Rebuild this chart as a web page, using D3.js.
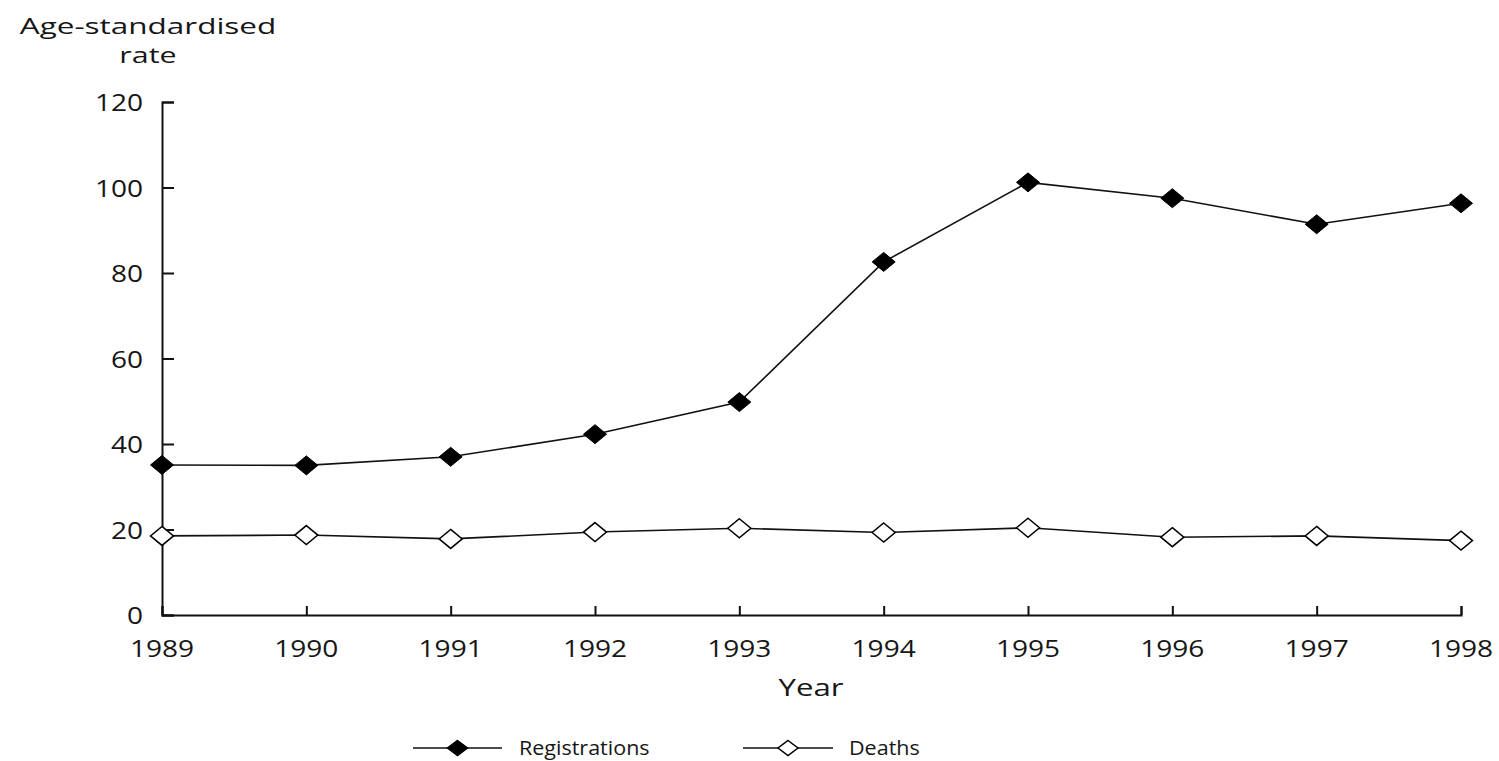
<!DOCTYPE html>
<html><head><meta charset="utf-8">
<script src="https://cdn.jsdelivr.net/npm/d3@7"></script>
<style>html,body{margin:0;padding:0;background:#fff;} text{font-family:"Open Sans","Noto Sans",sans-serif;fill:#161616;}</style>
</head><body>
<svg id="c" width="1499" height="761"></svg>
<script>
const years = [1989,1990,1991,1992,1993,1994,1995,1996,1997,1998];
const registrations = [35.1,35.0,37.0,42.3,49.8,82.6,101.2,97.5,91.4,96.3];
const deaths = [18.5,18.7,17.8,19.4,20.3,19.3,20.4,18.2,18.5,17.4];
const yTicks = [0,20,40,60,80,100,120];
const seriesNames = ["Registrations","Deaths"];

const svg = d3.select("#c");
const x = d3.scaleLinear().domain([1989,1998]).range([162,1461]);
const y = d3.scaleLinear().domain([0,120]).range([615,102]);

function label(g, tx, ty, str, anchor, fs, sx){
  return g.append("text").attr("transform",`translate(${tx},${ty}) scale(${sx},1)`)
    .attr("text-anchor",anchor||"middle").attr("font-size",fs).text(str);
}

// axes
const yAxis = svg.append("g").attr("transform","translate(162,0)")
  .call(d3.axisRight(y).tickValues(yTicks).tickSize(12).tickFormat(""));
const xAxis = svg.append("g").attr("transform","translate(0,615)")
  .call(d3.axisTop(x).tickValues(years).tickSize(9).tickFormat(""));
[yAxis,xAxis].forEach(a=>{a.selectAll("path,line").attr("stroke","#111").attr("stroke-width",2);});

yTicks.forEach(v=>label(svg,143,y(v)+9,v,"end",23,1.22));
years.forEach(v=>label(svg,x(v),657,v,"middle",23,1.22));
label(svg,811,696,"Year","middle",24,1.3);
label(svg,148,34,"Age-standardised","middle",21,1.5);
label(svg,148,63,"rate","middle",21,1.45);

const line = d3.line().x((d,i)=>x(years[i])).y(d=>y(d));
const diamond = "M0,-9.5L11.5,0L0,9.5L-11.5,0Z";

function drawSeries(vals, filled){
  svg.append("path").datum(vals).attr("d",line).attr("fill","none").attr("stroke","#111").attr("stroke-width",1.6);
  svg.selectAll(null).data(vals).enter().append("path")
    .attr("d",diamond).attr("transform",(d,i)=>`translate(${x(years[i])},${y(d)})`)
    .attr("fill",filled?"#000":"#fff").attr("stroke","#000").attr("stroke-width",filled?1:1.5);
}
drawSeries(deaths,false);
drawSeries(registrations,true);

// legend
const leg = [{name:seriesNames[0],x0:413,x1:502,filled:true,tx:519},{name:seriesNames[1],x0:743,x1:833,filled:false,tx:849}];
leg.forEach(l=>{
  svg.append("line").attr("x1",l.x0).attr("x2",l.x1).attr("y1",748).attr("y2",748).attr("stroke","#111").attr("stroke-width",1.6);
  svg.append("path").attr("d","M0,-7.5L10,0L0,7.5L-10,0Z").attr("transform",`translate(${(l.x0+l.x1)/2},748)`)
    .attr("fill",l.filled?"#000":"#fff").attr("stroke","#000").attr("stroke-width",1.5);
  label(svg,l.tx,755,l.name,"start",20.5,1.05);
});
</script>
</body></html>
